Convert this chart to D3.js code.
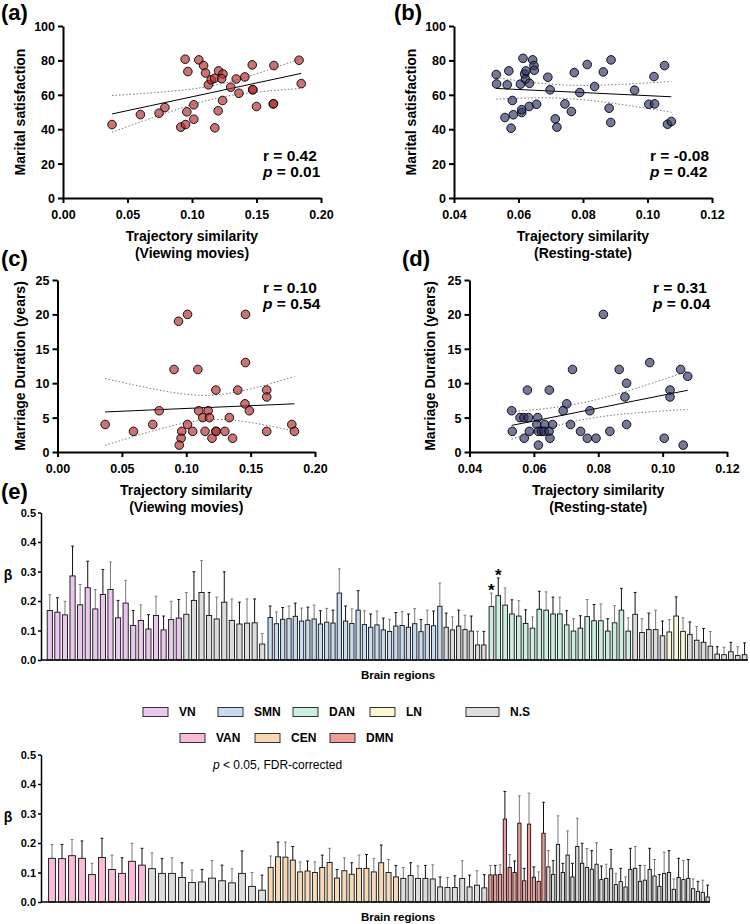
<!DOCTYPE html>
<html>
<head>
<meta charset="utf-8">
<script src="https://cdn.jsdelivr.net/npm/d3@7"></script>
<style>
body { margin: 0; background: #fff; }
text { font-family: "Liberation Sans", Arial, sans-serif; }
</style>
</head>
<body>
<svg id="fig" width="750" height="924"></svg>
<script>
// ---- scatter data ----
var aX = [0.038,0.060,0.0745,0.079,0.0947,0.0968,0.0913,0.095,0.096,0.1014,0.1014,0.1053,0.109,0.1105,0.1127,0.1149,0.1175,0.1206,0.124,0.123,0.1177,0.1203,0.1237,0.130,0.1343,0.1364,0.141,0.1467,0.147,0.1472,0.150,0.163,0.1632,0.1635,0.183,0.1847];
var aY = [42.7,48.5,49.3,52.6,80.7,73.5,41.2,42.7,50.1,54.2,45.8,80.3,77,72.7,65.8,68.7,69.6,73.9,72.1,69.4,40.8,50.7,56.7,64.4,69.2,60.9,70.4,77.4,62.9,63.0,53.2,54.7,54.8,77,80.1,66.5];

var bX = [0.0531,0.0532,0.0565,0.0570,0.0558,0.0581,0.0584,0.0577,0.0606,0.0610,0.0610,0.0614,0.0619,0.0623,0.0622,0.0634,0.0633,0.0644,0.0648,0.0649,0.0656,0.0691,0.0698,0.0714,0.0719,0.0744,0.0764,0.0773,0.0790,0.0813,0.0836,0.0863,0.0881,0.0886,0.0887,0.0960,0.1004,0.1022,0.1020,0.1053,0.1062,0.1074];
var bY = [71.8,66.3,65.8,73.9,46.8,56.7,48.4,40.6,66.2,49.7,51.3,81.2,72.1,73.9,69.1,66.7,53.2,80.3,77,74.3,54.5,70.2,62.9,46,41.2,54.7,50.3,72.9,61.3,77.6,64.8,73.3,52.2,43.9,80.3,62.7,54.5,54.7,70.6,77,42.9,44.5];

var cX = [0.094,0.101,0.146,0.0905,0.109,0.146,0.123,0.140,0.1625,0.1625,0.1456,0.149,0.079,0.1097,0.117,0.1128,0.118,0.1335,0.037,0.074,0.101,0.182,0.059,0.0965,0.105,0.1146,0.123,0.1232,0.13,0.1625,0.184,0.096,0.120,0.136,0.0946];
var cY = [19,20,20,12,12,13,9,9,9,8,7,6,6,6,6,5,5,5,4,4,4,4,3,3,3,3,3,3,3,3,3,2,2,2,1];

var dX = [0.0816,0.072,0.0865,0.096,0.1056,0.1078,0.0888,0.058,0.0648,0.1023,0.0883,0.1023,0.0702,0.0691,0.0774,0.0531,0.0557,0.0569,0.0583,0.0612,0.0609,0.0634,0.0658,0.0714,0.0888,0.0533,0.0586,0.0614,0.0624,0.0632,0.0647,0.0745,0.0836,0.057,0.065,0.0766,0.0793,0.1005,0.0614,0.1064];
var dY = [20,12,12,13,12,11,10,9,9,9,8,8,7,6,6,6,5,5,5,5,4,4,4,4,4,3,3,3,3,3,3,3,3,2,2,2,2,2,1,1];

var movieTicks = [0, 0.05, 0.10, 0.15, 0.20];
var restTicks = [0.04, 0.06, 0.08, 0.10, 0.12];
var satTicks = [0, 20, 40, 60, 80, 100];
var durTicks = [0, 5, 10, 15, 20, 25];

// ---- bar data: beta and upper end of the error bar ----
// top chart
var vnBeta  = [0.168,0.162,0.153,0.285,0.187,0.245,0.173,0.222,0.239,0.143,0.193,0.117,0.134,0.105,0.151,0.102,0.137,0.142];
var vnUpper = [0.221,0.211,0.199,0.386,0.256,0.335,0.239,0.307,0.332,0.202,0.270,0.168,0.187,0.154,0.216,0.149,0.199,0.205];
var top1NsBeta  = [0.155,0.202,0.229,0.151,0.139,0.196,0.134,0.122,0.125,0.126,0.054];
var top1NsUpper = [0.229,0.299,0.337,0.229,0.213,0.299,0.207,0.196,0.207,0.207,0.090];
var smnBeta  = [0.144,0.123,0.138,0.140,0.148,0.132,0.135,0.139,0.122,0.128,0.125,0.227,0.132,0.124,0.169,0.120,0.111,0.119,0.102,0.097,0.115,0.117,0.111,0.123,0.096,0.120,0.116,0.182];
var smnUpper = [0.183,0.163,0.178,0.183,0.193,0.176,0.179,0.186,0.167,0.175,0.169,0.309,0.183,0.173,0.235,0.167,0.156,0.166,0.142,0.138,0.161,0.164,0.156,0.174,0.137,0.169,0.166,0.261];
var top2NsBeta  = [0.111,0.102,0.115,0.103,0.098,0.051,0.051];
var top2NsUpper = [0.159,0.146,0.169,0.152,0.149,0.097,0.097];
var danBeta  = [0.181,0.218,0.186,0.156,0.149,0.124,0.108,0.172,0.169,0.156,0.156,0.119,0.098,0.108,0.147,0.133,0.133,0.098,0.126,0.169,0.098];
var danUpper = [0.227,0.278,0.244,0.204,0.201,0.170,0.146,0.233,0.231,0.213,0.213,0.167,0.140,0.150,0.205,0.188,0.190,0.140,0.184,0.243,0.143];
var top3NsBeta  = [0.155,0.093,0.103,0.103,0.082];
var top3NsUpper = [0.229,0.140,0.159,0.169,0.132];
var lnBeta  = [0.095,0.149,0.097];
var lnUpper = [0.137,0.214,0.143];
var top4NsBeta  = [0.086,0.067,0.060,0.047,0.020,0.018,0.028,0.015,0.018];
var top4NsUpper = [0.129,0.113,0.107,0.097,0.045,0.043,0.060,0.045,0.058];
var starred = ["DAN-0", "DAN-1"];

// bottom chart
var vanBeta  = [0.148,0.147,0.157,0.148,0.093,0.151,0.110,0.097,0.138,0.125];
var vanUpper = [0.195,0.195,0.212,0.207,0.131,0.216,0.159,0.150,0.199,0.182];
var bot1NsBeta  = [0.113,0.097,0.097,0.083,0.066,0.068,0.081,0.072,0.065,0.097,0.053,0.040];
var bot1NsUpper = [0.167,0.147,0.150,0.133,0.108,0.110,0.140,0.125,0.113,0.173,0.100,0.091];
var cenBeta  = [0.117,0.153,0.152,0.142,0.102,0.105,0.100,0.117,0.134,0.081,0.106,0.094,0.114,0.114,0.102,0.133,0.100,0.085];
var cenUpper = [0.156,0.203,0.203,0.188,0.136,0.139,0.136,0.159,0.182,0.110,0.150,0.133,0.159,0.161,0.148,0.193,0.144,0.124];
var bot2NsBeta  = [0.080,0.090,0.080,0.080,0.078,0.051,0.049,0.049,0.080,0.051,0.057,0.048];
var bot2NsUpper = [0.117,0.133,0.122,0.124,0.126,0.085,0.083,0.089,0.140,0.091,0.106,0.093];
var dmnBeta  = [0.092,0.092,0.093,0.281,0.117,0.100,0.267,0.072,0.264,0.084,0.070,0.233];
var dmnUpper = [0.124,0.124,0.126,0.375,0.161,0.139,0.360,0.114,0.369,0.119,0.102,0.338];
var bot3NsBeta  = [0.119,0.093,0.195,0.100,0.159,0.085,0.188,0.131,0.117,0.111,0.128,0.076,0.080,0.113,0.059,0.069,0.051,0.110,0.114,0.070,0.074,0.110,0.088,0.053,0.097,0.100,0.043,0.083,0.076,0.080,0.045,0.036,0.032,0.017];
var bot3NsUpper = [0.174,0.140,0.292,0.131,0.241,0.131,0.284,0.199,0.181,0.174,0.201,0.122,0.128,0.178,0.097,0.114,0.085,0.182,0.188,0.124,0.124,0.182,0.144,0.093,0.169,0.174,0.078,0.148,0.140,0.144,0.078,0.070,0.074,0.057];

var betaTicks = [0, 0.1, 0.2, 0.3, 0.4, 0.5];
var netColors = {VN: "#ebc7f0", SMN: "#c7dcf1", DAN: "#c9efdf", LN: "#fbf7d3", NS: "#dcdcdc",
                 VAN: "#f8bcd9", CEN: "#f8d8b3", DMN: "#f19b96"};
var legendRow1 = ["VN", "SMN", "DAN", "LN", "N.S"];
var legendRow2 = ["VAN", "CEN", "DMN"];

var svg = d3.select("#fig");

function styleAxis(g, size, width) {
    g.selectAll("path.domain").attr("stroke", "#000").attr("stroke-width", width);
    g.selectAll(".tick line").attr("stroke", "#000").attr("stroke-width", width);
    g.selectAll(".tick text").attr("font-size", size).attr("font-weight", "bold")
        .attr("font-family", "'Liberation Sans', Arial, sans-serif").attr("fill", "#000");
}

function fitLine(xs, ys) {
    var n = xs.length, mx = d3.mean(xs), my = d3.mean(ys);
    var sxx = d3.sum(xs, function(d) { return (d - mx) * (d - mx); });
    var sxy = d3.sum(xs.map(function(d, i) { return (d - mx) * (ys[i] - my); }));
    var b = sxy / sxx, a = my - b * mx;
    var sse = d3.sum(xs.map(function(d, i) { return Math.pow(ys[i] - a - b * d, 2); }));
    return {a: a, b: b, s: Math.sqrt(sse / (n - 2)), n: n, mx: mx, sxx: sxx};
}

function scatterPanel(o) {
    var g = svg.append("g");
    var x = d3.scaleLinear().domain([o.xTicks[0], o.xTicks[o.xTicks.length - 1]]).range([o.left, o.right]);
    var y = d3.scaleLinear().domain([o.yTicks[0], o.yTicks[o.yTicks.length - 1]]).range([o.bottom, o.top]);

    var xa = g.append("g").attr("transform", "translate(0," + o.bottom + ")")
        .call(d3.axisBottom(x).tickValues(o.xTicks).tickFormat(d3.format(".2f")).tickSize(5).tickSizeOuter(0).tickPadding(7));
    styleAxis(xa, 12.5, 2);
    var ya = g.append("g").attr("transform", "translate(" + o.left + ",0)")
        .call(d3.axisLeft(y).tickValues(o.yTicks).tickSize(5).tickSizeOuter(0).tickPadding(3));
    styleAxis(ya, 12.5, 2);
    ya.selectAll(".tick text").attr("dy", "0.36em");

    // regression line + 95% band
    var f = fitLine(o.xs, o.ys);
    var lo = d3.min(o.xs), hi = d3.max(o.xs);
    var grid = d3.range(0, 41).map(function(i) { return lo + (hi - lo) * i / 40; });
    var t = 2.03;
    function band(sign) {
        return grid.map(function(v) {
            var se = f.s * Math.sqrt(1 / f.n + (v - f.mx) * (v - f.mx) / f.sxx);
            return [x(v), y(f.a + f.b * v + sign * t * se)];
        });
    }
    var ln = d3.line();
    [1, -1].forEach(function(sg) {
        g.append("path").attr("d", ln(band(sg))).attr("fill", "none")
            .attr("stroke", "#777").attr("stroke-width", 1).attr("stroke-dasharray", "1.5,2");
    });
    g.append("line").attr("x1", x(lo)).attr("x2", x(hi))
        .attr("y1", y(f.a + f.b * lo)).attr("y2", y(f.a + f.b * hi))
        .attr("stroke", "#000").attr("stroke-width", 1);

    g.selectAll(".pt").data(o.xs).enter().append("circle")
        .attr("class", "pt")
        .attr("cx", function(d) { return x(d); })
        .attr("cy", function(d, i) { return y(o.ys[i]); })
        .attr("r", 4.3)
        .attr("fill", o.fill).attr("fill-opacity", 0.66)
        .attr("stroke", "#000").attr("stroke-width", 0.9);

    // labels
    g.append("text").attr("x", o.labelX).attr("y", o.labelY).attr("font-size", 22).attr("font-weight", "bold").text(o.label);
    g.append("text").attr("transform", "translate(" + o.yTitleX + "," + (o.top + o.bottom) / 2 + ") rotate(-90)")
        .attr("text-anchor", "middle").attr("font-size", 14).attr("font-weight", "bold").text(o.yTitle);
    var cx = (o.left + o.right) / 2;
    g.append("text").attr("x", cx).attr("y", o.xTitleY).attr("text-anchor", "middle")
        .attr("font-size", 14).attr("font-weight", "bold").text("Trajectory similarity");
    g.append("text").attr("x", cx).attr("y", o.xTitleY + 17).attr("text-anchor", "middle")
        .attr("font-size", 14).attr("font-weight", "bold").text(o.xTitle2);

    g.append("text").attr("x", o.statX).attr("y", o.statY).attr("font-size", 15.5).attr("font-weight", "bold").text("r = " + o.r);
    var pt = g.append("text").attr("x", o.statX).attr("y", o.statY + 15.5).attr("font-size", 15.5).attr("font-weight", "bold");
    pt.append("tspan").attr("font-style", "italic").text("p");
    pt.append("tspan").text(" = " + o.p);
}

scatterPanel({xs: aX, ys: aY, xTicks: movieTicks, yTicks: satTicks, left: 63, right: 321, top: 26, bottom: 198,
    fill: "#b02a2a", label: "(a)", labelX: 1, labelY: 20, yTitle: "Marital satisfaction", yTitleX: 25,
    xTitleY: 241, xTitle2: "(Viewing movies)", statX: 263, statY: 161, r: "0.42", p: "0.01"});
scatterPanel({xs: bX, ys: bY, xTicks: restTicks, yTicks: satTicks, left: 454, right: 712, top: 26, bottom: 198,
    fill: "#2c3267", label: "(b)", labelX: 394, labelY: 20, yTitle: "Marital satisfaction", yTitleX: 416,
    xTitleY: 241, xTitle2: "(Resting-state)", statX: 650, statY: 161, r: "-0.08", p: "0.42"});
scatterPanel({xs: cX, ys: cY, xTicks: movieTicks, yTicks: durTicks, left: 57.5, right: 315, top: 280, bottom: 452,
    fill: "#b02a2a", label: "(c)", labelX: 1, labelY: 266, yTitle: "Marriage Duration (years)", yTitleX: 25,
    xTitleY: 495, xTitle2: "(Viewing movies)", statX: 263, statY: 293, r: "0.10", p: "0.54"});
scatterPanel({xs: dX, ys: dY, xTicks: restTicks, yTicks: durTicks, left: 469.5, right: 727, top: 280, bottom: 452,
    fill: "#2c3267", label: "(d)", labelX: 402, labelY: 266, yTitle: "Marriage Duration (years)", yTitleX: 435,
    xTitleY: 495, xTitle2: "(Resting-state)", statX: 653, statY: 293, r: "0.31", p: "0.04"});

// ---- bar charts ----
function group(net, beta, upper, tag) {
    return beta.map(function(v, i) { return {net: net, key: (tag || "") + net + "-" + i, v: v, up: upper[i]}; });
}

function barChart(o) {
    var g = svg.append("g");
    var y = d3.scaleLinear().domain([0, 0.5]).range([o.base, o.base - 147.5]);
    var ya = g.append("g").attr("transform", "translate(" + o.left + ",0)")
        .call(d3.axisLeft(y).tickValues(betaTicks).tickFormat(d3.format(".1f")).tickSize(3).tickSizeOuter(0).tickPadding(2));
    styleAxis(ya, 11, 1.5);
    ya.selectAll(".tick text").attr("dy", "0.36em");

    var idx = 0;
    o.segments.forEach(function(seg) {
        var bars = [].concat.apply([], seg.groups);
        var x = d3.scaleBand().domain(bars.map(function(d) { return d.key; }))
            .range(seg.range).paddingInner(0.32).paddingOuter(0.16);
        var bw = x.bandwidth();
        bars.forEach(function(d) {
            var cx = x(d.key) + bw / 2;
            var ec = (idx % 2 === 0) ? "#7a7a7a" : "#111";
            idx += 1;
            g.append("line").attr("x1", cx).attr("x2", cx).attr("y1", y(d.v)).attr("y2", y(d.up))
                .attr("stroke", ec).attr("stroke-width", 1);
            g.append("line").attr("x1", cx - 1.4).attr("x2", cx + 1.4).attr("y1", y(d.up)).attr("y2", y(d.up))
                .attr("stroke", ec).attr("stroke-width", 1);
            g.append("rect").attr("x", x(d.key)).attr("y", y(d.v)).attr("width", bw)
                .attr("height", y(0) - y(d.v)).attr("fill", netColors[d.net])
                .attr("stroke", "#111").attr("stroke-width", 0.9);
            if (starred.indexOf(d.key) >= 0) {
                g.append("text").attr("x", cx).attr("y", y(d.up) + 3).attr("text-anchor", "middle")
                    .attr("font-size", 17).attr("font-weight", "bold").text("*");
            }
        });
    });
    g.append("line").attr("x1", o.left).attr("x2", o.right).attr("y1", y(0)).attr("y2", y(0))
        .attr("stroke", "#000").attr("stroke-width", 1.5);
    g.append("text").attr("x", 398).attr("y", o.base + 19).attr("text-anchor", "middle")
        .attr("font-size", 11.5).attr("font-weight", "bold").text("Brain regions");
    g.append("text").attr("x", 8).attr("y", o.base - 80).attr("text-anchor", "middle")
        .attr("font-size", 14).attr("font-weight", "bold").text("β");
}

barChart({base: 660, left: 41, right: 748, segments: [
    {range: [46, 266], groups: [group("VN", vnBeta, vnUpper), group("NS", top1NsBeta, top1NsUpper, "a")]},
    {range: [267, 487], groups: [group("SMN", smnBeta, smnUpper), group("NS", top2NsBeta, top2NsUpper, "b")]},
    {range: [488, 748], groups: [group("DAN", danBeta, danUpper), group("NS", top3NsBeta, top3NsUpper, "c"),
                                 group("LN", lnBeta, lnUpper), group("NS", top4NsBeta, top4NsUpper, "d")]}
]});

barChart({base: 902, left: 41, right: 710, segments: [
    {range: [47, 267], groups: [group("VAN", vanBeta, vanUpper), group("NS", bot1NsBeta, bot1NsUpper, "e")]},
    {range: [267, 488], groups: [group("CEN", cenBeta, cenUpper), group("NS", bot2NsBeta, bot2NsUpper, "f")]},
    {range: [488, 710], groups: [group("DMN", dmnBeta, dmnUpper), group("NS", bot3NsBeta, bot3NsUpper, "g")]}
]});

svg.append("text").attr("x", 1).attr("y", 499).attr("font-size", 22).attr("font-weight", "bold").text("(e)");

// ---- legend ----
var legBoxX1 = [143, 218, 293, 370, 466];
var legBoxX2 = [180, 255, 330];
function legendRow(names, xs, cy) {
    names.forEach(function(n, i) {
        var key = n === "N.S" ? "NS" : n;
        var w = n === "N.S" ? 33 : 25;
        svg.append("rect").attr("x", xs[i]).attr("y", cy - 4.5).attr("width", w).attr("height", 9)
            .attr("fill", netColors[key]).attr("stroke", "#333").attr("stroke-width", 1);
        svg.append("text").attr("x", xs[i] + w + 11).attr("y", cy + 4.3)
            .attr("font-size", 12).attr("font-weight", "bold").text(n);
    });
}
legendRow(legendRow1, legBoxX1, 712);
legendRow(legendRow2, legBoxX2, 738);

var note = svg.append("text").attr("x", 213).attr("y", 769).attr("font-size", 12);
note.append("tspan").attr("font-style", "italic").text("p");
note.append("tspan").text(" < 0.05, FDR-corrected");
</script>
</body>
</html>
